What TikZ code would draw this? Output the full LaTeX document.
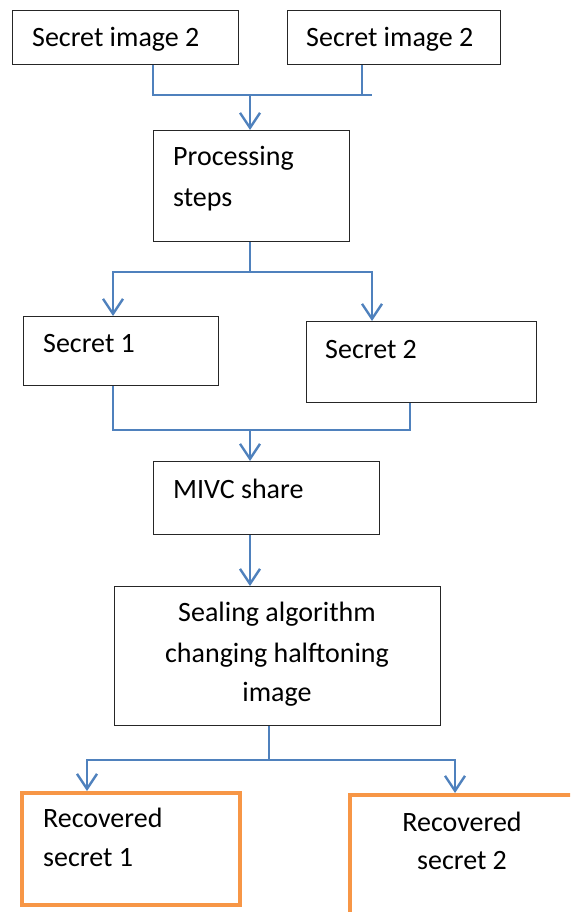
\documentclass[tikz,border=0pt]{standalone}
\usepackage{fontspec}
\setmainfont{Carlito}
\usetikzlibrary{arrows.meta}
\definecolor{flowblue}{RGB}{79,129,189}
\definecolor{recorange}{RGB}{247,150,70}
\begin{document}
\begin{tikzpicture}[x=1pt,y=-1pt,
  box/.style={draw=black!85,line width=1.3pt,rectangle,inner sep=0pt,anchor=north west},
  recbox/.style={draw=recorange,line width=4pt,rectangle,inner sep=0pt,anchor=north west},
  txt/.style={font=\fontsize{28}{40}\selectfont,inner sep=0pt,anchor=base west},
  flow/.style={draw=flowblue,line width=2.4pt},
  arr/.style={flow,-{Straight Barb[length=15pt,width=20pt,line width=2.4pt]}}]
\useasboundingbox (0,0) rectangle (570,912);
\clip (0,0) rectangle (570,912);
% boxes
\node[box,minimum width=226pt,minimum height=54pt] (b1) at (12,10) {};
\node[box,minimum width=213pt,minimum height=54pt] (b2) at (287,10) {};
\node[box,minimum width=196pt,minimum height=111pt] (proc) at (153,130) {};
\node[box,minimum width=195pt,minimum height=69pt] (s1) at (23,316) {};
\node[box,minimum width=230pt,minimum height=81pt] (s2) at (306,321) {};
\node[box,minimum width=226pt,minimum height=73pt] (mivc) at (153,461) {};
\node[box,minimum width=326pt,minimum height=139pt] (seal) at (114,586) {};
\node[recbox,minimum width=218pt,minimum height=112pt] (r1) at (20,791) {};
\node[recbox,minimum width=240pt,minimum height=130pt] (r2) at (348,793) {};
% texts
\node[txt] (t1) at (32,47) {Secret image 2};
\node[txt] (t2) at (306,47) {Secret image 2};
\node[txt] (tp) at (173,166) {Processing};
\node[txt] (tp2) at (173,206) {steps};
\node[txt] (ts1) at (43,352) {Secret 1};
\node[txt] (ts2) at (325,358) {Secret 2};
\node[txt] (tm) at (173,498) {MIVC share};
\node[txt,anchor=base] (tsa) at (277,621) {Sealing algorithm};
\node[txt,anchor=base] (tsb) at (277,662) {changing halftoning};
\node[txt,anchor=base] (tsc) at (277,701) {image};
\node[txt] (tr1a) at (43,827) {Recovered};
\node[txt] (tr1b) at (43,866) {secret 1};
\node[txt,anchor=base] (tr2a) at (462,831) {Recovered};
\node[txt,anchor=base] (tr2b) at (462,869) {secret 2};
% connectors
\coordinate (j1l) at (153,95);
\coordinate (j1r) at (372,95);
\coordinate (j1m) at (250,95);
\draw[flow] (b1.south west -| j1l) -- (j1l) -- (j1r);
\draw[flow] (b2.south west -| 362,0) -- (362,95);
\draw[arr] (j1m) -- (j1m |- proc.north);
\coordinate (j2m) at (250,272);
\coordinate (j2l) at (113,272);
\coordinate (j2r) at (372,272);
\draw[flow] (proc.south -| j2m) -- (j2m);
\draw[arr] (j2m) -- (j2l) -- (j2l |- s1.north);
\draw[arr] (j2m) -- (j2r) -- (j2r |- s2.north);
\coordinate (j3l) at (113,430);
\coordinate (j3r) at (410,430);
\coordinate (j3m) at (250,430);
\draw[flow] (s1.south -| j3l) -- (j3l) -- (j3r) -- (j3r |- s2.south);
\draw[arr] (j3m) -- (j3m |- mivc.north);
\draw[arr] (mivc.south -| j3m) -- (j3m |- seal.north);
\coordinate (j4m) at (269,760);
\coordinate (j4l) at (87,760);
\coordinate (j4r) at (455,760);
\draw[flow] (seal.south -| j4m) -- (j4m);
\draw[arr] (j4m) -- (j4l) -- (j4l |- r1.north);
\draw[arr] (j4m) -- (j4r) -- (j4r |- r2.north);
\end{tikzpicture}
\end{document}
